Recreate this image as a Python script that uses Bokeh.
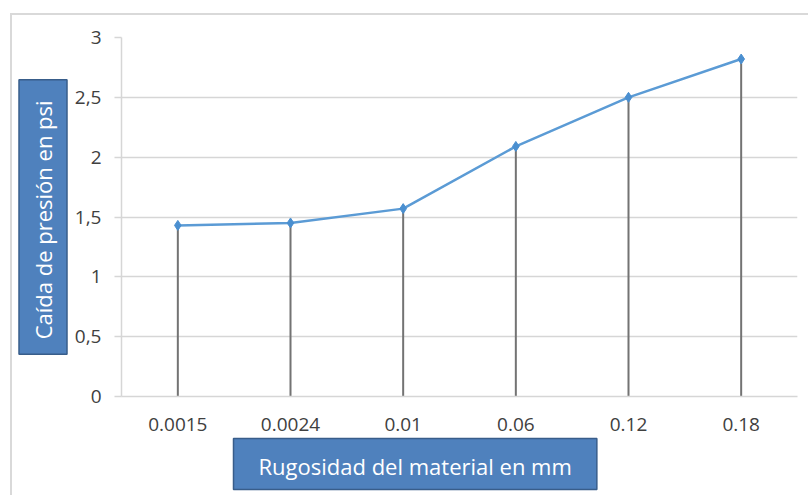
from bokeh.plotting import figure
from bokeh.models import FixedTicker, Range1d, Title, InlineStyleSheet
from bokeh.embed import file_html
from bokeh.resources import INLINE

categories = ["0.0015", "0.0024", "0.01", "0.06", "0.12", "0.18"]
pressure_drop = [1.43, 1.45, 1.57, 2.09, 2.50, 2.82]
y_ticks = [0, 0.5, 1, 1.5, 2, 2.5, 3]
y_tick_labels = ["0", "0,5", "1", "1,5", "2", "2,5", "3"]
x_title = "Rugosidad del material en mm"
y_title = "Caída de presión en  psi"

W, H = 808, 495
L, R, T, B = 121, 11, 37, 99

xs = list(range(len(categories)))

border_css = InlineStyleSheet(css="""
:host::after {
  content: "";
  position: absolute;
  left: 10px; top: 13px; right: 0px; bottom: 0px;
  border-left: 2px solid #d9d9d9;
  border-top: 2px solid #d9d9d9;
  pointer-events: none;
  z-index: 10;
}
""")

p = figure(width=W, height=H, output_backend="svg", toolbar_location=None,
           x_range=Range1d(-0.5, len(categories) - 0.5), y_range=Range1d(0, 3),
           min_border_left=L, min_border_right=R, min_border_top=T, min_border_bottom=B,
           stylesheets=[border_css])
p.outline_line_color = None
p.background_fill_color = "white"
p.border_fill_color = "white"

FONT = "Open Sans"
LABEL_COLOR = "#404040"
GRID = "#d6d6d6"

# y axis
p.yaxis.ticker = FixedTicker(ticks=y_ticks)
p.yaxis.major_label_overrides = {t: s for t, s in zip(y_ticks, y_tick_labels)}
p.yaxis.axis_line_color = GRID
p.yaxis.axis_line_width = 1.5
p.yaxis.major_tick_line_color = GRID
p.yaxis.major_tick_line_width = 1.5
p.yaxis.major_tick_out = 7
p.yaxis.major_tick_in = 0
p.yaxis.minor_tick_line_color = None
p.yaxis.major_label_text_font = FONT
p.yaxis.major_label_text_font_size = "19px"
p.yaxis.major_label_text_font_style = "normal"
p.yaxis.major_label_text_color = LABEL_COLOR
p.yaxis.major_label_standoff = 13

# x axis
p.xaxis.ticker = FixedTicker(ticks=xs)
p.xaxis.major_label_overrides = {i: c for i, c in zip(xs, categories)}
p.xaxis.axis_line_color = GRID
p.xaxis.axis_line_width = 1.5
p.xaxis.major_tick_line_color = None
p.xaxis.minor_tick_line_color = None
p.xaxis.major_label_text_font = FONT
p.xaxis.major_label_text_font_size = "19px"
p.xaxis.major_label_text_color = LABEL_COLOR
p.xaxis.major_label_standoff = 15

p.xgrid.grid_line_color = None
p.ygrid.ticker = FixedTicker(ticks=y_ticks)
p.ygrid.grid_line_color = GRID
p.ygrid.grid_line_width = 1.5

# drop lines
p.segment(x0=xs, y0=[0] * len(xs), x1=xs, y1=pressure_drop,
          line_color="#737373", line_width=2)
# series
p.line(xs, pressure_drop, line_color="#5B9BD5", line_width=2.5)
p.scatter(xs, pressure_drop, marker="diamond", size=10, fill_color="#4A8FD0",
          line_color="#4A8FD0")

# axis titles as filled boxes
p.add_layout(Title(text=y_title, text_font=FONT, text_font_size="22px",
                   text_font_style="normal", text_color="white",
                   background_fill_color="#4F81BD", border_line_color="#385D8A",
                   border_line_width=1.5, padding=(15, 9), align="center",
                   standoff=9), "left")
p.add_layout(Title(text=x_title, text_font=FONT, text_font_size="22px",
                   text_font_style="normal", text_color="white",
                   background_fill_color="#4F81BD", border_line_color="#385D8A",
                   border_line_width=1.5, padding=dict(left=25, right=25, top=12, bottom=9),
                   align="left", offset=112, standoff=6), "below")

open("out.html", "w").write(file_html(p, INLINE))
